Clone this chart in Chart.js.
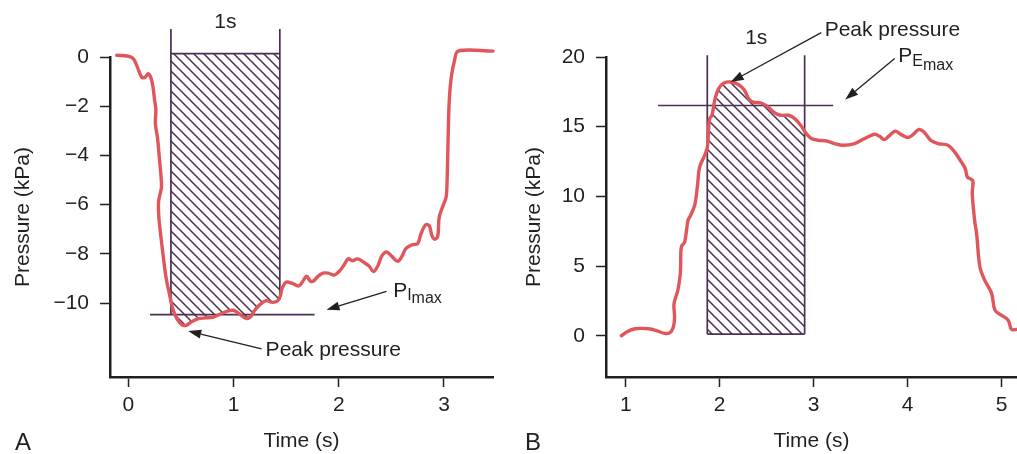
<!DOCTYPE html>
<html>
<head>
<meta charset="utf-8">
<title>Maximal inspiratory / expiratory pressure</title>
<script src="https://cdn.jsdelivr.net/npm/chart.js@4.4.1/dist/chart.umd.min.js"></script>
<style>
  html, body { margin: 0; padding: 0; background: #fff; }
  #wrap { position: relative; width: 1017px; height: 454px; }
  canvas { position: absolute; top: 0; }
</style>
</head>
<body>
<div id="wrap">
  <canvas id="panelA" width="508" height="454" style="left:0"></canvas>
  <canvas id="panelB" width="509" height="454" style="left:508px"></canvas>
</div>
<script>
/* global Chart */

// ── Data ─────────────────────────────────────────────

// Panel A: inspiratory manoeuvre (kPa vs s)
const aTime = [-0.11, 0.0, 0.05, 0.09, 0.127, 0.16, 0.19, 0.215, 0.232, 0.25, 0.262, 0.257, 0.278, 0.295, 0.312, 0.315, 0.3, 0.287, 0.29, 0.31,
  0.335, 0.36, 0.39, 0.42, 0.46, 0.51, 0.55, 0.6, 0.66, 0.73, 0.8, 0.87, 0.93, 1.0, 1.06, 1.12, 1.16, 1.2, 1.25, 1.31,
  1.37, 1.42, 1.445, 1.46, 1.5, 1.56, 1.62, 1.66, 1.694, 1.73, 1.76, 1.8, 1.85, 1.9, 1.96, 2.01, 2.05, 2.09, 2.13, 2.18,
  2.24, 2.29, 2.33, 2.37, 2.41, 2.455, 2.51, 2.56, 2.6, 2.635, 2.69, 2.75, 2.78, 2.825, 2.86, 2.885, 2.91, 2.94, 2.955, 2.99,
  3.02, 3.03, 3.04, 3.05, 3.07, 3.1, 3.135, 3.466];
const aPressure = [0.07, 0.03, -0.08, -0.45, -0.82, -0.82, -0.68, -0.85, -1.15, -1.75, -2.15, -2.7, -3.3, -4.1, -4.9, -5.3, -5.6, -5.9, -6.5, -7.3,
  -8.2, -9.0, -9.6, -10.2, -10.62, -10.88, -10.9, -10.76, -10.64, -10.6, -10.58, -10.45, -10.34, -10.29, -10.45, -10.62, -10.56, -10.3, -10.06, -9.9,
  -9.97, -9.9, -9.7, -9.42, -9.15, -9.2, -9.3, -9.1, -8.9, -9.1, -9.1, -8.92, -8.78, -8.78, -8.86, -8.68, -8.45, -8.2, -8.28, -8.2,
  -8.35, -8.5, -8.72, -8.5, -8.08, -7.92, -8.12, -8.3, -8.1, -7.8, -7.64, -7.58, -7.2, -6.82, -6.85, -7.25, -7.4, -7.3, -6.5, -6.05,
  -5.7, -5.0, -3.2, -1.8, -0.8, -0.15, 0.24, 0.24];
const aXTicks = [0, 1, 2, 3];
const aYTicks = [0, -2, -4, -6, -8, -10];
const aWindow = [0.405, 1.44];      // 1 s averaging window
const aWindowTop = 0.14;
const aGuideTop = 1.14;
const aPImax = -10.47;
const aPImaxSpan = [0.206, 1.77];
const aRightEdgeEnd = -9.85;

// Panel B: expiratory manoeuvre
const bTime = [0.954, 1.025, 1.1, 1.167, 1.24, 1.309, 1.415, 1.47, 1.505, 1.52, 1.514, 1.555, 1.58, 1.585, 1.592, 1.628, 1.663, 1.691, 1.734, 1.762,
  1.787, 1.84, 1.869, 1.883, 1.894, 1.918, 1.947, 1.989, 2.046, 2.117, 2.195, 2.259, 2.309, 2.355, 2.443, 2.514, 2.585, 2.649, 2.734, 2.798,
  2.862, 2.922, 2.975, 3.046, 3.135, 3.223, 3.312, 3.436, 3.543, 3.649, 3.702, 3.755, 3.809, 3.869, 3.933, 4.004, 4.057, 4.117, 4.174, 4.245,
  4.323, 4.429, 4.5, 4.571, 4.613, 4.635, 4.67, 4.695, 4.688, 4.713, 4.734, 4.769, 4.82, 4.894, 4.929, 4.996, 5.07, 5.106, 5.164];
const bPressure = [0.0, 0.33, 0.5, 0.53, 0.5, 0.41, 0.17, 0.22, 0.6, 1.3, 2.3, 3.27, 4.4, 5.2, 6.38, 6.74, 8.29, 8.65, 9.37, 10.68,
  12.11, 12.95, 13.55, 14.98, 15.58, 15.82, 16.89, 17.73, 18.14, 18.21, 18.04, 17.66, 17.01, 16.77, 16.7, 16.42, 15.99, 15.82, 15.82, 15.58,
  15.1, 14.5, 14.15, 14.03, 13.98, 13.79, 13.67, 13.79, 14.15, 14.46, 14.31, 14.07, 14.38, 14.67, 14.43, 14.22, 14.43, 14.79, 14.62, 14.03,
  13.79, 13.67, 13.19, 12.47, 12.0, 11.4, 11.25, 11.1, 10.2, 8.29, 7.34, 4.95, 3.99, 3.04, 1.84, 1.48, 1.12, 0.46, 0.46];
const bXTicks = [1, 2, 3, 4, 5];
const bYTicks = [0, 5, 10, 15, 20];
const bWindow = [1.868, 2.904];
const bWindowBase = 0.12;
const bGuideTop = 20.12;
const bPEmax = 16.52;
const bPEmaxSpan = [1.344, 3.208];

// ── Style ────────────────────────────────────────────

const FONT = '"Liberation Sans", Arial, sans-serif';
const FS = 21;
const INK = '#231f20';
const CURVE = '#e0565b';
const PURPLE = '#4b2f55';

// diagonal hatch tile ("\\\\")
const hatch = (() => {
  const s = 10, c = document.createElement('canvas');
  c.width = s; c.height = s;
  const g = c.getContext('2d');
  g.strokeStyle = PURPLE; g.lineWidth = 1.5;
  g.beginPath();
  g.moveTo(-2, -2); g.lineTo(s + 2, s + 2);
  g.moveTo(-2, s - 2); g.lineTo(2, s + 2);
  g.moveTo(s - 2, -2); g.lineTo(s + 2, 2);
  g.stroke();
  return g.createPattern(c, 'repeat');
})();

const fmt = v => (v < 0 ? '\u2212' + Math.abs(v) : String(v));
const pts = (xs, ys) => xs.map((x, i) => ({ x, y: ys[i] }));

// ── Annotation plugin: hatch between curve and window edge, arrows, labels ──

function arrow(ctx, x1, y1, x2, y2) {
  const a = Math.atan2(y2 - y1, x2 - x1), len = 13, w = 4.5;
  const bx = x2 - len * Math.cos(a), by = y2 - len * Math.sin(a);
  ctx.beginPath(); ctx.moveTo(x1, y1); ctx.lineTo(bx, by); ctx.stroke();
  ctx.beginPath(); ctx.moveTo(x2, y2);
  ctx.lineTo(bx + w * Math.sin(a), by - w * Math.cos(a));
  ctx.lineTo(bx - w * Math.sin(a), by + w * Math.cos(a));
  ctx.closePath(); ctx.fill();
}

function label(ctx, x, y, parts, align) {
  let w = 0;
  parts.forEach(([t, size]) => { ctx.font = `${size}px ${FONT}`; w += ctx.measureText(t).width; });
  let cx = align === 'center' ? x - w / 2 : x;
  parts.forEach(([t, size, dy]) => {
    ctx.font = `${size}px ${FONT}`;
    ctx.fillText(t, cx, y + dy);
    cx += ctx.measureText(t).width;
  });
}

const notesPlugin = {
  id: 'notes',
  beforeDatasetsDraw(chart, args, o) {
    const { ctx, scales: { x, y } } = chart;
    const line = chart.getDatasetMeta(0).dataset;
    line.updateControlPoints(chart.chartArea, 'x');
    const p = line.points;
    const x0 = x.getPixelForValue(o.window[0]), x1 = x.getPixelForValue(o.window[1]);
    const yb = y.getPixelForValue(o.windowEdge);
    ctx.save();
    ctx.beginPath(); ctx.rect(x0, 0, x1 - x0, chart.height); ctx.clip();
    ctx.beginPath();
    line.path(ctx);
    ctx.lineTo(p[p.length - 1].x, yb);
    ctx.lineTo(p[0].x, yb);
    ctx.closePath();
    ctx.fillStyle = hatch;
    ctx.fill();
    ctx.restore();
  },
  afterDatasetsDraw(chart, args, o) {
    const { ctx, scales: { x, y } } = chart;
    ctx.save();
    ctx.fillStyle = INK; ctx.strokeStyle = INK; ctx.lineWidth = 1.3;
    o.arrows.forEach(([a, b, c, d]) => arrow(ctx, x.getPixelForValue(a), y.getPixelForValue(b), x.getPixelForValue(c), y.getPixelForValue(d)));
    ctx.textBaseline = 'alphabetic'; ctx.textAlign = 'left';
    o.labels.forEach(l => label(ctx, x.getPixelForValue(l.x), y.getPixelForValue(l.y), l.parts, l.align));
    ctx.font = `24px ${FONT}`;
    ctx.fillText(o.panel, o.panelX, 450);
    ctx.restore();
  },
};

// ── Builder ──────────────────────────────────────────

function guide(data) {
  return { data, borderColor: PURPLE, borderWidth: 1.7, pointRadius: 0, tension: 0, clip: false };
}

function axis(min, max, ticks, title, size, pad) {
  return {
    type: 'linear', min, max,
    afterBuildTicks: s => { s.ticks = ticks.map(value => ({ value })); },
    afterFit: s => { if (s.isHorizontal()) s.height = size; else s.width = size; },
    ticks: { color: INK, font: { family: FONT, size: FS }, padding: pad.tick, callback: fmt },
    grid: { drawOnChartArea: false, drawTicks: true, tickLength: 10, tickColor: INK, tickWidth: 1.5 },
    border: { display: true, color: INK, width: 2.5 },
    title: { display: true, text: title, color: INK, font: { family: FONT, size: FS }, padding: pad.title },
  };
}

function build(id, cfg) {
  return new Chart(document.getElementById(id), {
    type: 'line',
    data: {
      datasets: [
        { data: pts(cfg.time, cfg.pressure), borderColor: CURVE, borderWidth: 3.4, pointRadius: 0,
          tension: 0.35, capBezierPoints: false, clip: false, borderCapStyle: 'round', borderJoinStyle: 'round' },
        ...cfg.guides.map(guide),
      ],
    },
    options: {
      responsive: false, animation: false, events: [],
      layout: { padding: cfg.padding },
      scales: {
        x: axis(cfg.x[0], cfg.x[1], cfg.xTicks, 'Time (s)', 77, { tick: 6, title: { top: 0, bottom: 0 } }),
        y: axis(cfg.y[0], cfg.y[1], cfg.yTicks, 'Pressure (kPa)', cfg.yWidth, { tick: 11, title: { top: cfg.yTitlePad, bottom: 0 } }),
      },
      plugins: {
        legend: { display: false }, tooltip: { enabled: false },
        notes: cfg.notes,
      },
    },
    plugins: [notesPlugin],
  });
}

// ── Panels ───────────────────────────────────────────

build('panelA', {
  time: aTime, pressure: aPressure,
  x: [-0.174, 3.466], y: [-13.0, 0], xTicks: aXTicks, yTicks: aYTicks,
  yWidth: 110, yTitlePad: 11,
  padding: { left: 0, top: 57, right: 15, bottom: 0 },
  guides: [
    [{ x: aWindow[0], y: aWindowTop }, { x: aWindow[1], y: aWindowTop }],
    [{ x: aWindow[0], y: aGuideTop }, { x: aWindow[0], y: aPImax }],
    [{ x: aWindow[1], y: aGuideTop }, { x: aWindow[1], y: aRightEdgeEnd }],
    [{ x: aPImaxSpan[0], y: aPImax }, { x: aPImaxSpan[1], y: aPImax }],
  ],
  notes: {
    window: aWindow, windowEdge: aWindowTop,
    arrows: [[1.267, -11.86, 0.569, -11.13], [2.454, -9.52, 1.884, -10.27]],
    labels: [
      { x: 0.923, y: 1.16, parts: [['1s', FS, 0]], align: 'center' },
      { x: 1.305, y: -12.15, parts: [['Peak pressure', FS, 0]] },
      { x: 2.517, y: -9.73, parts: [['P', FS, 0], ['I', 16, 3.5], ['max', 16, 6]] },
    ],
    panel: 'A', panelX: 15,
  },
});

build('panelB', {
  time: bTime, pressure: bPressure,
  x: [0.79, 5.164], y: [-2.96, 20], xTicks: bXTicks, yTicks: bYTicks,
  yWidth: 98, yTitlePad: 14,
  padding: { left: 0, top: 57, right: 0, bottom: 0 },
  guides: [
    [{ x: bWindow[0], y: bWindowBase }, { x: bWindow[1], y: bWindowBase }],
    [{ x: bWindow[0], y: bGuideTop }, { x: bWindow[0], y: bWindowBase }],
    [{ x: bWindow[1], y: bGuideTop }, { x: bWindow[1], y: bWindowBase }],
    [{ x: bPEmaxSpan[0], y: bPEmax }, { x: bPEmaxSpan[1], y: bPEmax }],
  ],
  notes: {
    window: bWindow, windowEdge: bWindowBase,
    arrows: [[3.081, 21.75, 2.117, 18.21], [3.862, 19.89, 3.336, 16.95]],
    labels: [
      { x: 2.389, y: 20.91, parts: [['1s', FS, 0]], align: 'center' },
      { x: 3.117, y: 21.48, parts: [['Peak pressure', FS, 0]] },
      { x: 3.9, y: 19.64, parts: [['P', FS, 0], ['E', 16, 3.5], ['max', 16, 8]] },
    ],
    panel: 'B', panelX: 17,
  },
});
</script>
</body>
</html>
